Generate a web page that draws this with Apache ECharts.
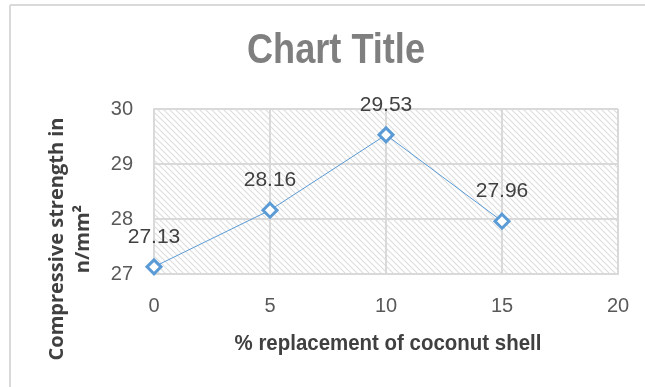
<!DOCTYPE html>
<html>
<head>
<meta charset="utf-8">
<script src="https://cdn.jsdelivr.net/npm/echarts@6/dist/echarts.min.js"></script>
<style>
  html, body { margin: 0; padding: 0; background: #fff; }
  #chart { width: 645px; height: 387px; }
</style>
</head>
<body>
<div id="chart"></div>
<script>
// Compressive strength vs. % coconut shell replacement
const replacementPct = [0, 5, 10, 15];
const strengthValues = [27.13, 28.16, 29.53, 27.96];
const xTicks = [0, 5, 10, 15, 20];
const yTicks = [27, 28, 29, 30];

const chartTitle = 'Chart Title';
const xAxisTitle = '% replacement of coconut shell';
const yAxisTitle = 'Compressive strength in\nn/mm²';

// Diagonal hatch fill for the plot area
function hatchPattern() {
  const s = 6;
  const c = document.createElement('canvas');
  c.width = s; c.height = s;
  const ctx = c.getContext('2d');
  ctx.fillStyle = '#ffffff';
  ctx.fillRect(0, 0, s, s);
  ctx.strokeStyle = '#dedede';
  ctx.lineWidth = 1.2;
  ctx.beginPath();
  ctx.moveTo(-1, -1); ctx.lineTo(s + 1, s + 1);
  ctx.moveTo(-s - 1, -1); ctx.lineTo(1, s + 1);
  ctx.moveTo(s - 1, -1); ctx.lineTo(2 * s + 1, s + 1);
  ctx.stroke();
  return { image: c, repeat: 'repeat' };
}

const points = replacementPct.map((x, i) => [x, strengthValues[i]]);
const sans = '"Liberation Sans", Arial, sans-serif';

const chart = echarts.init(document.getElementById('chart'), null, { renderer: 'canvas' });
chart.setOption({
  animation: false,
  backgroundColor: '#ffffff',
  grid: {
    left: 154, right: 27, top: 109, bottom: 113,
    show: true,
    backgroundColor: hatchPattern(),
    borderWidth: 0
  },
  xAxis: {
    type: 'value',
    min: xTicks[0], max: xTicks[xTicks.length - 1], interval: 5,
    axisLine: { show: true, lineStyle: { color: '#d9d9d9', width: 2 } },
    axisTick: { show: false },
    splitLine: { show: true, lineStyle: { color: '#d9d9d9', width: 2 } },
    axisLabel: { color: '#595959', fontFamily: sans, fontSize: 20, margin: 22 }
  },
  yAxis: {
    type: 'value',
    min: yTicks[0], max: yTicks[yTicks.length - 1], interval: 1,
    axisLine: { show: true, lineStyle: { color: '#d9d9d9', width: 2 } },
    axisTick: { show: false },
    splitLine: { show: true, lineStyle: { color: '#d9d9d9', width: 2 } },
    axisLabel: { color: '#595959', fontFamily: sans, fontSize: 20, margin: 21 }
  },
  series: [{
    type: 'line',
    data: points,
    lineStyle: { color: '#5b9bd5', width: 1 },
    symbol: 'diamond',
    symbolSize: 14,
    itemStyle: { color: '#ffffff', borderColor: '#5b9bd5', borderWidth: 3 },
    label: {
      show: true,
      position: 'top',
      distance: 11,
      color: '#404040',
      fontFamily: sans,
      fontSize: 21,
      formatter: p => p.value[1].toFixed(2)
    },
    z: 5
  }],
  graphic: [
    { type: 'line', shape: { x1: 10, y1: 5, x2: 645, y2: 5 }, style: { stroke: '#d9d9d9', lineWidth: 2 } },
    { type: 'line', shape: { x1: 10, y1: 5, x2: 10, y2: 387 }, style: { stroke: '#d9d9d9', lineWidth: 2 } },
    {
      type: 'text', x: 336, y: 51, scaleX: 0.86,
      style: {
        text: chartTitle, fill: '#7f7f7f', fontFamily: sans, fontWeight: 'bold',
        fontSize: 42, textAlign: 'center', textVerticalAlign: 'middle'
      }
    },
    {
      type: 'text', x: 388, y: 344, scaleX: 0.93,
      style: {
        text: xAxisTitle, fill: '#404040', fontFamily: sans, fontWeight: 'bold',
        fontSize: 22, textAlign: 'center', textVerticalAlign: 'middle'
      }
    },
    {
      type: 'text', x: 70, y: 239, rotation: Math.PI / 2,
      style: {
        text: yAxisTitle, fill: '#404040', fontFamily: '"Open Sans", "Noto Sans", sans-serif', fontWeight: 'bold',
        fontSize: 20, lineHeight: 26, textAlign: 'center', textVerticalAlign: 'middle'
      }
    }
  ]
});
</script>
</body>
</html>
